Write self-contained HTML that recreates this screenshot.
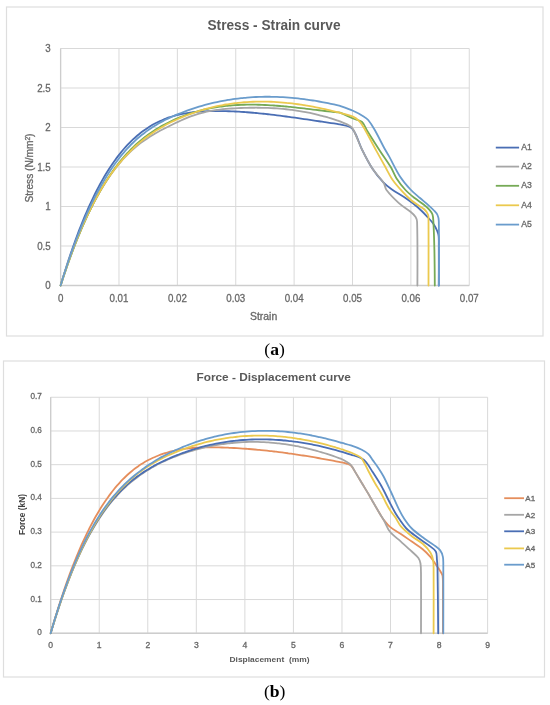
<!DOCTYPE html><html><head><meta charset="utf-8"><style>html,body{margin:0;padding:0;background:#fff;}svg{display:block;filter:blur(0.5px);}text{font-family:"Liberation Sans",sans-serif;}</style></head><body>
<svg width="550" height="705" viewBox="0 0 550 705">
<rect x="0" y="0" width="550" height="705" fill="#fff"/>
<rect x="6.5" y="7" width="536.5" height="329" fill="none" stroke="#DEDEDE" stroke-width="1.2"/>
<rect x="3.5" y="361" width="541" height="316" fill="none" stroke="#DEDEDE" stroke-width="1.2"/>
<g stroke="#D9D9D9" stroke-width="1"><line x1="60.60" y1="48.50" x2="60.60" y2="285.5" /><line x1="118.98" y1="48.50" x2="118.98" y2="285.5" /><line x1="177.36" y1="48.50" x2="177.36" y2="285.5" /><line x1="235.74" y1="48.50" x2="235.74" y2="285.5" /><line x1="294.12" y1="48.50" x2="294.12" y2="285.5" /><line x1="352.50" y1="48.50" x2="352.50" y2="285.5" /><line x1="410.88" y1="48.50" x2="410.88" y2="285.5" /><line x1="469.26" y1="48.50" x2="469.26" y2="285.5" /><line x1="60.6" y1="285.50" x2="469.26" y2="285.50" /><line x1="60.6" y1="246.00" x2="469.26" y2="246.00" /><line x1="60.6" y1="206.50" x2="469.26" y2="206.50" /><line x1="60.6" y1="167.00" x2="469.26" y2="167.00" /><line x1="60.6" y1="127.50" x2="469.26" y2="127.50" /><line x1="60.6" y1="88.00" x2="469.26" y2="88.00" /><line x1="60.6" y1="48.50" x2="469.26" y2="48.50" /></g>
<g stroke="#CDCDCD" stroke-width="1.3"><line x1="60.6" y1="48.50" x2="60.6" y2="285.5"/><line x1="60.6" y1="285.5" x2="469.26" y2="285.5"/></g>
<text transform="translate(50.7,289.10) scale(0.84,1)" font-size="11.6" fill="#676767" stroke="#676767" stroke-width="0.3" text-anchor="end">0</text>
<text transform="translate(50.7,249.60) scale(0.84,1)" font-size="11.6" fill="#676767" stroke="#676767" stroke-width="0.3" text-anchor="end">0.5</text>
<text transform="translate(50.7,210.10) scale(0.84,1)" font-size="11.6" fill="#676767" stroke="#676767" stroke-width="0.3" text-anchor="end">1</text>
<text transform="translate(50.7,170.60) scale(0.84,1)" font-size="11.6" fill="#676767" stroke="#676767" stroke-width="0.3" text-anchor="end">1.5</text>
<text transform="translate(50.7,131.10) scale(0.84,1)" font-size="11.6" fill="#676767" stroke="#676767" stroke-width="0.3" text-anchor="end">2</text>
<text transform="translate(50.7,91.60) scale(0.84,1)" font-size="11.6" fill="#676767" stroke="#676767" stroke-width="0.3" text-anchor="end">2.5</text>
<text transform="translate(50.7,52.10) scale(0.84,1)" font-size="11.6" fill="#676767" stroke="#676767" stroke-width="0.3" text-anchor="end">3</text>
<text transform="translate(60.60,302.3) scale(0.84,1)" font-size="11.6" fill="#676767" stroke="#676767" stroke-width="0.3" text-anchor="middle">0</text>
<text transform="translate(118.98,302.3) scale(0.84,1)" font-size="11.6" fill="#676767" stroke="#676767" stroke-width="0.3" text-anchor="middle">0.01</text>
<text transform="translate(177.36,302.3) scale(0.84,1)" font-size="11.6" fill="#676767" stroke="#676767" stroke-width="0.3" text-anchor="middle">0.02</text>
<text transform="translate(235.74,302.3) scale(0.84,1)" font-size="11.6" fill="#676767" stroke="#676767" stroke-width="0.3" text-anchor="middle">0.03</text>
<text transform="translate(294.12,302.3) scale(0.84,1)" font-size="11.6" fill="#676767" stroke="#676767" stroke-width="0.3" text-anchor="middle">0.04</text>
<text transform="translate(352.50,302.3) scale(0.84,1)" font-size="11.6" fill="#676767" stroke="#676767" stroke-width="0.3" text-anchor="middle">0.05</text>
<text transform="translate(410.88,302.3) scale(0.84,1)" font-size="11.6" fill="#676767" stroke="#676767" stroke-width="0.3" text-anchor="middle">0.06</text>
<text transform="translate(469.26,302.3) scale(0.84,1)" font-size="11.6" fill="#676767" stroke="#676767" stroke-width="0.3" text-anchor="middle">0.07</text>
<text x="263.6" y="319.5" font-size="10.4" fill="#676767" stroke="#676767" stroke-width="0.3" text-anchor="middle">Strain</text>
<text x="274" y="30.2" font-size="14" font-weight="bold" fill="#595959" text-anchor="middle" textLength="133" lengthAdjust="spacingAndGlyphs">Stress - Strain curve</text>
<text transform="translate(33.2,168) rotate(-90)" font-size="10" fill="#676767" stroke="#676767" stroke-width="0.3" text-anchor="middle" textLength="69" lengthAdjust="spacingAndGlyphs">Stress (N/mm<tspan font-size="6.5" dy="-3.5">2</tspan><tspan dy="3.5">)</tspan></text>
<path d="M60.60,285.50 C60.60,285.50 61.92,281.04 62.60,278.82 C63.26,276.65 63.92,274.49 64.60,272.33 C65.26,270.22 65.92,268.11 66.60,266.01 C67.26,263.96 67.92,261.91 68.60,259.87 C69.26,257.87 69.92,255.88 70.60,253.89 C71.26,251.96 71.92,250.02 72.60,248.09 C73.26,246.21 73.92,244.33 74.60,242.46 C75.26,240.63 75.92,238.81 76.60,236.99 C77.26,235.21 77.92,233.44 78.60,231.68 C79.26,229.95 79.92,228.24 80.60,226.52 C81.26,224.86 81.92,223.19 82.60,221.53 C83.26,219.91 83.92,218.30 84.60,216.69 C85.26,215.12 85.92,213.56 86.60,212.00 C87.26,210.48 87.92,208.96 88.60,207.45 C89.26,205.98 89.92,204.52 90.60,203.06 C91.26,201.64 91.92,200.22 92.60,198.80 C93.26,197.43 93.92,196.06 94.60,194.69 C95.26,193.36 95.92,192.04 96.60,190.72 C97.26,189.43 97.93,188.15 98.60,186.88 C99.06,186.00 99.52,185.13 100.00,184.27 C100.99,182.47 101.98,180.67 103.00,178.89 C103.98,177.19 104.98,175.49 106.00,173.81 C106.98,172.19 107.98,170.58 109.00,168.99 C109.98,167.47 110.98,165.95 112.00,164.45 C112.98,163.01 113.98,161.58 115.00,160.17 C115.98,158.81 116.98,157.46 118.00,156.13 C118.98,154.85 119.98,153.59 121.00,152.34 C121.98,151.14 122.98,149.95 124.00,148.78 C124.98,147.65 125.98,146.54 127.00,145.45 C127.98,144.39 128.98,143.35 130.00,142.33 C130.98,141.34 131.98,140.37 133.00,139.42 C133.98,138.49 134.98,137.59 136.00,136.70 C136.98,135.84 137.99,135.00 139.00,134.18 C139.99,133.38 140.99,132.60 142.00,131.83 C142.99,131.09 143.99,130.37 145.00,129.66 C145.99,128.97 146.99,128.30 148.00,127.65 C148.99,127.01 149.99,126.40 151.00,125.79 C151.99,125.21 152.99,124.64 154.00,124.08 C154.99,123.54 155.99,123.02 157.00,122.51 C157.99,122.01 158.99,121.53 160.00,121.07 C160.99,120.61 161.99,120.17 163.00,119.75 C163.99,119.33 164.99,118.93 166.00,118.55 C166.99,118.17 167.99,117.81 169.00,117.46 C169.99,117.12 171.00,116.80 172.00,116.49 C173.00,116.18 174.00,115.89 175.00,115.61 C176.00,115.34 177.00,115.08 178.00,114.84 C179.00,114.59 180.00,114.37 181.00,114.15 C182.00,113.94 183.00,113.74 184.00,113.55 C185.00,113.37 186.00,113.20 187.00,113.04 C188.00,112.88 189.00,112.73 190.00,112.59 C191.00,112.46 192.00,112.33 193.00,112.22 C194.00,112.10 195.00,112.00 196.00,111.91 C197.00,111.81 198.00,111.73 199.00,111.66 C200.00,111.58 201.00,111.52 202.00,111.46 C203.00,111.40 204.00,111.35 205.00,111.30 C206.00,111.26 207.00,111.22 208.00,111.19 C209.00,111.16 210.00,111.14 211.00,111.12 C212.00,111.10 213.00,111.08 214.00,111.07 C215.00,111.06 216.00,111.06 217.00,111.06 C218.00,111.06 219.00,111.06 220.00,111.07 C221.00,111.07 222.00,111.09 223.00,111.10 C224.00,111.12 225.00,111.14 226.00,111.17 C227.00,111.19 228.00,111.22 229.00,111.25 C230.00,111.28 231.00,111.32 232.00,111.36 C233.00,111.40 234.00,111.45 235.00,111.49 C236.00,111.54 237.00,111.59 238.00,111.65 C239.00,111.71 240.00,111.76 241.00,111.83 C242.00,111.89 243.00,111.95 244.00,112.02 C245.00,112.09 246.00,112.17 247.00,112.24 C248.00,112.32 249.00,112.40 250.00,112.48 C251.00,112.56 252.00,112.64 253.00,112.73 C254.00,112.82 255.00,112.91 256.00,113.00 C257.00,113.10 258.00,113.19 259.00,113.29 C260.00,113.39 261.00,113.49 262.00,113.59 C263.00,113.70 264.00,113.80 265.00,113.91 C266.00,114.02 267.00,114.13 268.00,114.24 C269.00,114.36 270.00,114.47 271.00,114.59 C272.00,114.71 273.00,114.83 274.00,114.95 C275.00,115.07 276.00,115.19 277.00,115.32 C278.00,115.44 279.00,115.57 280.00,115.70 C281.00,115.83 282.00,115.96 283.00,116.09 C284.00,116.22 285.00,116.35 286.00,116.49 C287.00,116.62 288.00,116.76 289.00,116.90 C290.00,117.03 291.00,117.17 292.00,117.31 C293.00,117.45 294.00,117.59 295.00,117.73 C296.00,117.88 297.00,118.02 298.00,118.16 C299.00,118.31 300.00,118.45 301.00,118.60 C302.00,118.74 303.00,118.89 304.00,119.03 C305.00,119.18 306.00,119.33 307.00,119.47 C308.00,119.62 309.00,119.77 310.00,119.92 C311.00,120.07 312.00,120.22 313.00,120.36 C314.00,120.51 315.00,120.66 316.00,120.81 C317.00,120.96 318.00,121.11 319.00,121.26 C320.00,121.41 321.00,121.56 322.00,121.71 C323.00,121.85 324.00,122.00 325.00,122.15 C326.00,122.30 327.00,122.45 328.00,122.59 C329.00,122.74 330.00,122.89 331.00,123.03 C332.00,123.18 333.00,123.33 334.00,123.47 C335.00,123.62 336.00,123.76 337.00,123.90 C338.00,124.05 339.01,124.11 340.00,124.33 C342.95,124.98 345.97,125.44 348.80,126.50 C350.19,127.02 351.54,127.86 352.50,129.00 C354.00,130.77 355.03,132.90 356.00,135.00 C358.13,139.61 359.56,144.54 361.80,149.10 C365.14,155.92 368.57,162.73 372.70,169.10 C375.86,173.97 379.63,178.46 383.60,182.70 C385.96,185.22 388.77,187.32 391.60,189.30 C396.08,192.43 401.00,194.90 405.50,198.00 C409.81,200.97 414.05,204.07 418.00,207.50 C421.56,210.59 424.77,214.06 428.00,217.50 C429.94,219.57 431.88,221.67 433.50,224.00 C434.90,226.02 436.04,228.24 437.00,230.50 C437.75,232.26 438.36,234.11 438.60,236.00 C438.97,238.98 438.79,242.00 438.80,245.00 C438.85,258.50 438.80,285.50 438.80,285.50" fill="none" stroke="#4A6EB4" stroke-width="1.8" stroke-linejoin="round" stroke-linecap="round"/>
<path d="M60.60,285.50 C60.60,285.50 61.93,281.39 62.60,279.34 C63.26,277.33 63.93,275.33 64.60,273.33 C65.26,271.38 65.93,269.43 66.60,267.49 C67.26,265.59 67.93,263.69 68.60,261.80 C69.26,259.95 69.93,258.11 70.60,256.27 C71.26,254.48 71.92,252.68 72.60,250.89 C73.26,249.15 73.92,247.41 74.60,245.67 C75.26,243.97 75.92,242.28 76.60,240.59 C77.26,238.95 77.92,237.30 78.60,235.66 C79.26,234.06 79.92,232.47 80.60,230.88 C81.26,229.33 81.92,227.78 82.60,226.24 C83.26,224.73 83.92,223.23 84.60,221.73 C85.26,220.27 85.92,218.82 86.60,217.37 C87.26,215.95 87.92,214.54 88.60,213.14 C89.26,211.77 89.92,210.40 90.60,209.04 C91.26,207.71 91.92,206.39 92.60,205.07 C93.26,203.79 93.92,202.51 94.60,201.24 C95.26,200.00 95.92,198.76 96.60,197.53 C97.26,196.33 97.93,195.13 98.60,193.94 C99.06,193.12 99.52,192.31 100.00,191.50 C100.99,189.82 101.98,188.14 103.00,186.47 C103.98,184.87 104.98,183.29 106.00,181.71 C106.98,180.19 107.98,178.69 109.00,177.20 C109.98,175.77 110.98,174.35 112.00,172.94 C112.98,171.58 113.98,170.24 115.00,168.92 C115.98,167.64 116.98,166.38 118.00,165.13 C118.98,163.92 119.98,162.73 121.00,161.56 C121.98,160.43 122.98,159.31 124.00,158.21 C124.98,157.15 125.98,156.10 127.00,155.07 C127.98,154.08 128.98,153.10 130.00,152.13 C130.98,151.20 131.99,150.28 133.00,149.37 C133.99,148.50 134.99,147.64 136.00,146.79 C136.99,145.97 137.99,145.16 139.00,144.36 C139.99,143.59 140.99,142.83 142.00,142.09 C142.99,141.36 143.99,140.64 145.00,139.94 C145.99,139.26 146.99,138.58 148.00,137.92 C148.99,137.27 149.99,136.64 151.00,136.02 C151.99,135.40 152.99,134.80 154.00,134.20 C154.99,133.62 155.99,133.04 157.00,132.48 C157.99,131.92 159.00,131.37 160.00,130.83 C161.00,130.29 162.00,129.76 163.00,129.24 C164.00,128.72 165.00,128.20 166.00,127.69 C167.00,127.19 168.00,126.69 169.00,126.19 C170.00,125.69 171.00,125.20 172.00,124.71 C173.00,124.22 174.00,123.73 175.00,123.25 C176.00,122.77 177.00,122.30 178.00,121.83 C179.00,121.37 180.00,120.91 181.00,120.46 C182.00,120.01 183.00,119.57 184.00,119.13 C185.00,118.70 186.00,118.28 187.00,117.87 C188.00,117.47 189.00,117.07 190.00,116.69 C191.00,116.31 192.00,115.94 193.00,115.58 C194.00,115.23 195.00,114.89 196.00,114.57 C197.00,114.25 198.00,113.94 199.00,113.65 C200.00,113.36 201.00,113.09 202.00,112.83 C203.00,112.57 204.00,112.33 205.00,112.09 C206.00,111.86 207.00,111.65 208.00,111.44 C209.00,111.24 210.00,111.05 211.00,110.87 C212.00,110.69 213.00,110.52 214.00,110.36 C215.00,110.20 216.00,110.06 217.00,109.92 C218.00,109.78 219.00,109.66 220.00,109.54 C221.00,109.42 222.00,109.31 223.00,109.21 C224.00,109.11 225.00,109.02 226.00,108.93 C227.00,108.84 228.00,108.76 229.00,108.69 C230.00,108.61 231.00,108.54 232.00,108.48 C233.00,108.42 234.00,108.36 235.00,108.30 C236.00,108.25 237.00,108.20 238.00,108.15 C239.00,108.10 240.00,108.06 241.00,108.02 C242.00,107.98 243.00,107.94 244.00,107.91 C245.00,107.88 246.00,107.85 247.00,107.83 C248.00,107.80 249.00,107.78 250.00,107.77 C251.00,107.75 252.00,107.74 253.00,107.73 C254.00,107.73 255.00,107.72 256.00,107.72 C257.00,107.73 258.00,107.73 259.00,107.74 C260.00,107.75 261.00,107.77 262.00,107.79 C263.00,107.81 264.00,107.83 265.00,107.86 C266.00,107.89 267.00,107.93 268.00,107.97 C269.00,108.01 270.00,108.05 271.00,108.10 C272.00,108.15 273.00,108.20 274.00,108.27 C275.00,108.33 276.00,108.39 277.00,108.46 C278.00,108.53 279.00,108.61 280.00,108.69 C281.00,108.77 282.00,108.86 283.00,108.95 C284.00,109.05 285.00,109.15 286.00,109.25 C287.00,109.36 288.00,109.47 289.00,109.59 C290.00,109.70 291.00,109.83 292.00,109.95 C293.00,110.08 294.00,110.22 295.00,110.36 C296.00,110.50 297.00,110.65 298.00,110.80 C299.00,110.96 300.00,111.12 301.00,111.28 C302.00,111.45 303.00,111.63 304.00,111.81 C305.00,111.99 306.00,112.17 307.00,112.37 C308.00,112.56 309.00,112.76 310.00,112.97 C311.00,113.18 312.00,113.39 313.00,113.61 C314.00,113.84 315.00,114.06 316.00,114.30 C317.00,114.54 318.00,114.78 319.00,115.03 C320.00,115.28 321.00,115.54 322.00,115.81 C323.00,116.07 324.00,116.34 325.00,116.63 C326.00,116.91 327.00,117.20 328.00,117.49 C329.00,117.79 330.00,118.09 331.00,118.40 C332.00,118.72 333.00,119.04 334.00,119.36 C335.00,119.69 336.00,120.03 337.00,120.37 C338.00,120.72 339.03,121.01 340.00,121.43 C343.36,122.89 346.91,124.04 350.00,126.00 C351.50,126.95 352.69,128.42 353.50,130.00 C356.66,136.18 358.74,142.87 361.80,149.10 C365.15,155.92 368.57,162.73 372.70,169.10 C375.86,173.97 380.40,177.85 383.60,182.70 C385.04,184.88 384.93,187.91 386.50,190.00 C390.11,194.81 394.45,199.06 398.90,203.10 C402.48,206.35 406.77,208.72 410.50,211.80 C412.35,213.33 414.29,214.88 415.60,216.90 C416.56,218.39 417.05,220.23 417.10,222.00 C417.66,243.16 417.40,285.50 417.40,285.50" fill="none" stroke="#A6A6A6" stroke-width="1.8" stroke-linejoin="round" stroke-linecap="round"/>
<path d="M60.60,285.50 C60.60,285.50 61.93,281.40 62.60,279.35 C63.26,277.35 63.93,275.36 64.60,273.36 C65.26,271.42 65.93,269.48 66.60,267.54 C67.26,265.64 67.93,263.75 68.60,261.86 C69.26,260.02 69.93,258.18 70.60,256.34 C71.26,254.55 71.93,252.76 72.60,250.98 C73.26,249.23 73.93,247.49 74.60,245.75 C75.26,244.06 75.93,242.37 76.60,240.68 C77.26,239.03 77.93,237.38 78.60,235.74 C79.26,234.14 79.93,232.54 80.60,230.95 C81.26,229.40 81.93,227.84 82.60,226.30 C83.26,224.79 83.93,223.28 84.60,221.78 C85.26,220.31 85.93,218.85 86.60,217.39 C87.26,215.97 87.93,214.55 88.60,213.13 C89.26,211.75 89.93,210.38 90.60,209.01 C91.26,207.67 91.93,206.34 92.60,205.01 C93.26,203.71 93.93,202.42 94.60,201.13 C95.26,199.87 95.93,198.62 96.60,197.37 C97.26,196.15 97.93,194.94 98.60,193.73 C99.06,192.90 99.52,192.08 100.00,191.26 C100.99,189.54 101.98,187.83 103.00,186.14 C103.98,184.50 104.98,182.88 106.00,181.27 C106.98,179.71 107.98,178.17 109.00,176.64 C109.98,175.16 110.98,173.69 112.00,172.24 C112.98,170.84 113.98,169.45 115.00,168.07 C115.98,166.74 116.98,165.42 118.00,164.12 C118.98,162.86 119.98,161.61 121.00,160.37 C121.98,159.18 122.98,158.00 124.00,156.83 C124.98,155.70 125.98,154.58 127.00,153.48 C127.98,152.41 128.99,151.35 130.00,150.31 C130.99,149.30 131.99,148.31 133.00,147.32 C133.99,146.37 134.99,145.43 136.00,144.50 C136.99,143.60 137.99,142.71 139.00,141.84 C139.99,140.99 140.99,140.15 142.00,139.33 C142.99,138.53 143.99,137.74 145.00,136.96 C145.99,136.20 146.99,135.46 148.00,134.73 C148.99,134.02 149.99,133.32 151.00,132.63 C151.99,131.95 152.99,131.29 154.00,130.64 C154.99,130.01 155.99,129.38 157.00,128.77 C157.99,128.17 158.99,127.58 160.00,127.00 C160.99,126.43 161.99,125.87 163.00,125.32 C163.99,124.78 164.99,124.25 166.00,123.74 C166.99,123.22 168.00,122.72 169.00,122.22 C170.00,121.74 171.00,121.26 172.00,120.79 C173.00,120.32 174.00,119.87 175.00,119.43 C176.00,118.99 177.00,118.56 178.00,118.14 C179.00,117.72 180.00,117.31 181.00,116.91 C182.00,116.52 183.00,116.14 184.00,115.76 C185.00,115.39 186.00,115.03 187.00,114.67 C188.00,114.33 189.00,113.99 190.00,113.65 C191.00,113.33 192.00,113.01 193.00,112.70 C194.00,112.39 195.00,112.09 196.00,111.80 C197.00,111.52 198.00,111.24 199.00,110.97 C200.00,110.70 201.00,110.45 202.00,110.20 C203.00,109.95 204.00,109.71 205.00,109.48 C206.00,109.25 207.00,109.03 208.00,108.82 C209.00,108.61 210.00,108.41 211.00,108.22 C212.00,108.02 213.00,107.84 214.00,107.67 C215.00,107.49 216.00,107.32 217.00,107.17 C218.00,107.01 219.00,106.86 220.00,106.72 C221.00,106.58 222.00,106.44 223.00,106.32 C224.00,106.19 225.00,106.07 226.00,105.96 C227.00,105.85 228.00,105.75 229.00,105.66 C230.00,105.56 231.00,105.47 232.00,105.39 C233.00,105.31 234.00,105.24 235.00,105.17 C236.00,105.11 237.00,105.05 238.00,105.00 C239.00,104.94 240.00,104.90 241.00,104.86 C242.00,104.82 243.00,104.78 244.00,104.76 C245.00,104.73 246.00,104.71 247.00,104.69 C248.00,104.68 249.00,104.67 250.00,104.66 C251.00,104.66 252.00,104.66 253.00,104.67 C254.00,104.68 255.00,104.69 256.00,104.71 C257.00,104.72 258.00,104.75 259.00,104.77 C260.00,104.80 261.00,104.83 262.00,104.87 C263.00,104.91 264.00,104.95 265.00,105.00 C266.00,105.04 267.00,105.09 268.00,105.15 C269.00,105.20 270.00,105.26 271.00,105.32 C272.00,105.39 273.00,105.45 274.00,105.52 C275.00,105.59 276.00,105.67 277.00,105.74 C278.00,105.82 279.00,105.90 280.00,105.98 C281.00,106.07 282.00,106.15 283.00,106.24 C284.00,106.33 285.00,106.43 286.00,106.52 C287.00,106.62 288.00,106.71 289.00,106.81 C290.00,106.91 291.00,107.02 292.00,107.12 C293.00,107.22 294.00,107.33 295.00,107.44 C296.00,107.55 297.00,107.66 298.00,107.77 C299.00,107.88 300.00,107.99 301.00,108.11 C302.00,108.22 303.00,108.34 304.00,108.46 C305.00,108.57 306.00,108.69 307.00,108.81 C308.00,108.93 309.00,109.05 310.00,109.17 C311.00,109.29 312.00,109.41 313.00,109.53 C314.00,109.66 315.00,109.78 316.00,109.90 C317.00,110.02 318.00,110.14 319.00,110.26 C320.00,110.39 321.00,110.51 322.00,110.63 C323.00,110.75 324.00,110.87 325.00,110.99 C326.00,111.11 327.00,111.23 328.00,111.35 C329.00,111.47 330.00,111.59 331.00,111.70 C332.00,111.82 333.00,111.93 334.00,112.05 C335.00,112.16 336.00,112.28 337.00,112.39 C338.00,112.50 339.06,112.35 340.00,112.71 C344.43,114.41 348.62,116.68 353.00,118.50 C355.89,119.71 359.43,119.75 361.80,121.80 C364.48,124.12 365.42,127.90 367.30,130.90 C371.49,137.60 375.70,144.27 380.00,150.90 C383.57,156.41 387.52,161.67 390.90,167.30 C393.00,170.79 394.20,174.78 396.40,178.20 C399.09,182.38 402.13,186.35 405.50,190.00 C408.36,193.09 411.72,195.67 415.00,198.30 C417.76,200.51 420.83,202.30 423.60,204.50 C425.67,206.14 427.74,207.83 429.50,209.80 C430.74,211.19 431.93,212.73 432.50,214.50 C433.27,216.90 433.27,219.49 433.40,222.00 C433.90,231.33 434.19,240.66 434.40,250.00 C434.66,261.83 434.80,285.50 434.80,285.50" fill="none" stroke="#76AA56" stroke-width="1.8" stroke-linejoin="round" stroke-linecap="round"/>
<path d="M60.60,285.50 C60.60,285.50 61.92,281.32 62.60,279.24 C63.26,277.21 63.92,275.18 64.60,273.16 C65.26,271.18 65.92,269.22 66.60,267.25 C67.26,265.33 67.92,263.42 68.60,261.51 C69.26,259.65 69.92,257.79 70.60,255.94 C71.26,254.13 71.92,252.33 72.60,250.53 C73.26,248.78 73.92,247.03 74.60,245.29 C75.26,243.59 75.92,241.89 76.60,240.20 C77.26,238.55 77.92,236.90 78.60,235.26 C79.26,233.67 79.92,232.07 80.60,230.48 C81.26,228.93 81.92,227.39 82.60,225.85 C83.26,224.35 83.92,222.85 84.60,221.36 C85.26,219.91 85.92,218.46 86.60,217.01 C87.26,215.61 87.92,214.20 88.60,212.80 C89.26,211.44 89.92,210.08 90.60,208.73 C91.26,207.41 91.92,206.10 92.60,204.79 C93.26,203.52 93.92,202.25 94.60,200.98 C95.26,199.75 95.92,198.52 96.60,197.30 C97.26,196.11 97.93,194.92 98.60,193.74 C99.06,192.93 99.52,192.12 100.00,191.31 C100.99,189.64 101.98,187.97 103.00,186.32 C103.98,184.73 104.98,183.15 106.00,181.58 C106.98,180.06 107.98,178.57 109.00,177.08 C109.98,175.64 110.98,174.22 112.00,172.81 C112.98,171.45 113.98,170.10 115.00,168.77 C115.98,167.48 116.98,166.20 118.00,164.94 C118.98,163.71 119.98,162.50 121.00,161.30 C121.98,160.14 122.99,159.00 124.00,157.86 C124.99,156.76 125.99,155.67 127.00,154.60 C127.99,153.56 128.99,152.53 130.00,151.51 C130.99,150.52 131.99,149.54 133.00,148.57 C133.99,147.63 134.99,146.70 136.00,145.79 C136.99,144.90 137.99,144.02 139.00,143.15 C139.99,142.31 140.99,141.47 142.00,140.65 C142.99,139.85 143.99,139.06 145.00,138.29 C145.99,137.52 146.99,136.78 148.00,136.04 C148.99,135.32 149.99,134.61 151.00,133.92 C151.99,133.23 152.99,132.56 154.00,131.90 C154.99,131.26 155.99,130.62 157.00,130.00 C157.99,129.38 158.99,128.78 160.00,128.19 C160.99,127.60 161.99,127.03 163.00,126.47 C163.99,125.91 164.99,125.37 166.00,124.83 C166.99,124.30 168.00,123.78 169.00,123.27 C170.00,122.77 171.00,122.27 172.00,121.79 C173.00,121.31 174.00,120.83 175.00,120.37 C176.00,119.90 177.00,119.45 178.00,119.00 C179.00,118.56 180.00,118.12 181.00,117.70 C182.00,117.27 183.00,116.86 184.00,116.45 C185.00,116.04 186.00,115.64 187.00,115.25 C188.00,114.87 189.00,114.49 190.00,114.11 C191.00,113.74 192.00,113.38 193.00,113.03 C194.00,112.68 195.00,112.33 196.00,112.00 C197.00,111.66 198.00,111.34 199.00,111.02 C200.00,110.70 201.00,110.40 202.00,110.09 C203.00,109.80 204.00,109.50 205.00,109.22 C206.00,108.94 207.00,108.66 208.00,108.40 C209.00,108.13 210.00,107.88 211.00,107.63 C212.00,107.38 213.00,107.14 214.00,106.90 C215.00,106.67 216.00,106.45 217.00,106.23 C218.00,106.01 219.00,105.81 220.00,105.61 C221.00,105.41 222.00,105.21 223.00,105.03 C224.00,104.84 225.00,104.67 226.00,104.50 C227.00,104.33 228.00,104.17 229.00,104.02 C230.00,103.86 231.00,103.72 232.00,103.58 C233.00,103.44 234.00,103.31 235.00,103.19 C236.00,103.06 237.00,102.95 238.00,102.84 C239.00,102.73 240.00,102.63 241.00,102.53 C242.00,102.44 243.00,102.35 244.00,102.27 C245.00,102.19 246.00,102.12 247.00,102.06 C248.00,101.99 249.00,101.93 250.00,101.88 C251.00,101.83 252.00,101.78 253.00,101.75 C254.00,101.71 255.00,101.68 256.00,101.65 C257.00,101.63 258.00,101.61 259.00,101.60 C260.00,101.59 261.00,101.58 262.00,101.58 C263.00,101.59 264.00,101.59 265.00,101.61 C266.00,101.62 267.00,101.64 268.00,101.67 C269.00,101.70 270.00,101.73 271.00,101.77 C272.00,101.81 273.00,101.86 274.00,101.91 C275.00,101.96 276.00,102.02 277.00,102.08 C278.00,102.14 279.00,102.21 280.00,102.29 C281.00,102.36 282.00,102.44 283.00,102.53 C284.00,102.62 285.00,102.71 286.00,102.81 C287.00,102.90 288.00,103.01 289.00,103.12 C290.00,103.23 291.00,103.34 292.00,103.46 C293.00,103.58 294.00,103.71 295.00,103.84 C296.00,103.97 297.00,104.10 298.00,104.24 C299.00,104.38 300.00,104.53 301.00,104.68 C302.00,104.83 303.00,104.99 304.00,105.15 C305.00,105.31 306.00,105.48 307.00,105.65 C308.00,105.82 309.00,105.99 310.00,106.17 C311.00,106.35 312.00,106.54 313.00,106.73 C314.00,106.92 315.00,107.11 316.00,107.31 C317.00,107.51 318.00,107.71 319.00,107.92 C320.00,108.13 321.00,108.34 322.00,108.56 C323.00,108.77 324.00,108.99 325.00,109.22 C326.00,109.44 327.00,109.67 328.00,109.90 C329.00,110.14 330.00,110.37 331.00,110.62 C332.00,110.86 333.00,111.10 334.00,111.35 C335.00,111.60 336.00,111.85 337.00,112.11 C338.00,112.36 339.01,112.60 340.00,112.89 C344.34,114.13 348.84,114.95 353.00,116.70 C355.25,117.65 357.27,119.17 359.00,120.90 C360.86,122.76 362.28,125.03 363.60,127.30 C368.09,135.04 372.10,143.05 376.40,150.90 C379.40,156.38 382.44,161.85 385.50,167.30 C387.88,171.55 389.93,176.00 392.70,180.00 C395.39,183.89 398.61,187.40 401.80,190.90 C404.69,194.07 407.65,197.20 410.90,200.00 C413.51,202.25 416.48,204.03 419.30,206.00 C421.01,207.20 423.01,208.04 424.50,209.50 C425.96,210.92 427.21,212.63 428.00,214.50 C428.59,215.89 428.49,217.49 428.50,219.00 C428.66,241.17 428.50,285.50 428.50,285.50" fill="none" stroke="#EBC94E" stroke-width="1.8" stroke-linejoin="round" stroke-linecap="round"/>
<path d="M60.60,285.50 C60.60,285.50 61.92,281.20 62.60,279.06 C63.26,276.97 63.93,274.88 64.60,272.80 C65.26,270.77 65.93,268.74 66.60,266.71 C67.26,264.73 67.92,262.76 68.60,260.78 C69.26,258.86 69.92,256.94 70.60,255.02 C71.26,253.15 71.92,251.28 72.60,249.42 C73.26,247.60 73.92,245.79 74.60,243.98 C75.26,242.21 75.92,240.45 76.60,238.69 C77.26,236.97 77.92,235.26 78.60,233.55 C79.26,231.89 79.92,230.23 80.60,228.57 C81.26,226.95 81.92,225.34 82.60,223.73 C83.26,222.16 83.92,220.60 84.60,219.04 C85.26,217.52 85.92,216.00 86.60,214.49 C87.26,213.02 87.92,211.55 88.60,210.08 C89.26,208.65 89.92,207.23 90.60,205.81 C91.26,204.42 91.92,203.04 92.60,201.67 C93.26,200.33 93.92,198.99 94.60,197.66 C95.26,196.37 95.92,195.07 96.60,193.79 C97.26,192.53 97.93,191.28 98.60,190.04 C99.06,189.18 99.52,188.33 100.00,187.48 C100.99,185.72 101.98,183.96 103.00,182.22 C103.98,180.54 104.98,178.87 106.00,177.22 C106.98,175.62 107.98,174.04 109.00,172.48 C109.98,170.96 110.98,169.47 112.00,167.98 C112.98,166.55 113.98,165.13 115.00,163.73 C115.98,162.37 116.98,161.03 118.00,159.70 C118.98,158.42 119.98,157.16 121.00,155.90 C121.98,154.69 122.98,153.50 124.00,152.32 C124.98,151.17 125.98,150.05 127.00,148.93 C127.98,147.86 128.98,146.79 130.00,145.75 C130.98,144.73 131.99,143.73 133.00,142.75 C133.99,141.79 134.99,140.85 136.00,139.92 C136.99,139.02 137.99,138.14 139.00,137.27 C139.99,136.42 140.99,135.59 142.00,134.78 C142.99,133.98 143.99,133.20 145.00,132.44 C145.99,131.69 146.99,130.96 148.00,130.24 C148.99,129.54 149.99,128.85 151.00,128.17 C151.99,127.51 152.99,126.87 154.00,126.24 C154.99,125.61 155.99,125.01 157.00,124.41 C157.99,123.83 158.99,123.26 160.00,122.70 C160.99,122.15 161.99,121.61 163.00,121.08 C163.99,120.56 164.99,120.05 166.00,119.55 C166.99,119.06 168.00,118.58 169.00,118.11 C170.00,117.64 171.00,117.18 172.00,116.73 C173.00,116.29 174.00,115.85 175.00,115.42 C176.00,115.00 177.00,114.58 178.00,114.17 C179.00,113.76 180.00,113.36 181.00,112.96 C182.00,112.57 183.00,112.18 184.00,111.80 C185.00,111.42 186.00,111.05 187.00,110.69 C188.00,110.33 189.00,109.97 190.00,109.62 C191.00,109.28 192.00,108.94 193.00,108.60 C194.00,108.27 195.00,107.95 196.00,107.63 C197.00,107.31 198.00,107.00 199.00,106.70 C200.00,106.40 201.00,106.10 202.00,105.81 C203.00,105.53 204.00,105.25 205.00,104.97 C206.00,104.70 207.00,104.43 208.00,104.17 C209.00,103.92 210.00,103.67 211.00,103.42 C212.00,103.18 213.00,102.94 214.00,102.71 C215.00,102.48 216.00,102.26 217.00,102.04 C218.00,101.83 219.00,101.62 220.00,101.42 C221.00,101.21 222.00,101.02 223.00,100.83 C224.00,100.64 225.00,100.46 226.00,100.29 C227.00,100.11 228.00,99.95 229.00,99.78 C230.00,99.62 231.00,99.47 232.00,99.32 C233.00,99.18 234.00,99.03 235.00,98.90 C236.00,98.77 237.00,98.64 238.00,98.52 C239.00,98.40 240.00,98.28 241.00,98.17 C242.00,98.06 243.00,97.96 244.00,97.87 C245.00,97.77 246.00,97.68 247.00,97.60 C248.00,97.52 249.00,97.44 250.00,97.37 C251.00,97.30 252.00,97.24 253.00,97.18 C254.00,97.12 255.00,97.07 256.00,97.02 C257.00,96.98 258.00,96.94 259.00,96.90 C260.00,96.87 261.00,96.84 262.00,96.82 C263.00,96.80 264.00,96.78 265.00,96.77 C266.00,96.76 267.00,96.76 268.00,96.76 C269.00,96.76 270.00,96.77 271.00,96.78 C272.00,96.80 273.00,96.82 274.00,96.84 C275.00,96.86 276.00,96.89 277.00,96.93 C278.00,96.97 279.00,97.01 280.00,97.05 C281.00,97.10 282.00,97.15 283.00,97.21 C284.00,97.27 285.00,97.33 286.00,97.40 C287.00,97.47 288.00,97.54 289.00,97.62 C290.00,97.70 291.00,97.78 292.00,97.87 C293.00,97.96 294.00,98.06 295.00,98.16 C296.00,98.26 297.00,98.36 298.00,98.47 C299.00,98.58 300.00,98.70 301.00,98.82 C302.00,98.94 303.00,99.06 304.00,99.19 C305.00,99.32 306.00,99.46 307.00,99.60 C308.00,99.74 309.00,99.88 310.00,100.03 C311.00,100.18 312.00,100.33 313.00,100.49 C314.00,100.65 315.00,100.82 316.00,100.98 C317.00,101.15 318.00,101.32 319.00,101.50 C320.00,101.68 321.00,101.86 322.00,102.05 C323.00,102.23 324.00,102.42 325.00,102.62 C326.00,102.81 327.00,103.01 328.00,103.22 C329.00,103.42 330.00,103.63 331.00,103.84 C332.00,104.05 333.00,104.27 334.00,104.49 C335.00,104.71 336.00,104.94 337.00,105.17 C338.00,105.40 339.03,105.53 340.00,105.87 C344.37,107.41 348.77,108.91 353.00,110.80 C356.65,112.43 360.18,114.33 363.60,116.40 C365.27,117.41 366.95,118.50 368.20,120.00 C370.63,122.92 372.61,126.20 374.50,129.50 C378.05,135.71 381.09,142.21 384.50,148.50 C385.95,151.18 387.62,153.74 389.10,156.40 C392.79,163.04 395.88,170.02 400.00,176.40 C403.04,181.10 406.70,185.39 410.50,189.50 C413.39,192.62 416.80,195.20 420.00,198.00 C422.63,200.30 425.39,202.47 428.00,204.80 C430.06,206.64 432.12,208.48 434.00,210.50 C435.30,211.89 436.71,213.27 437.50,215.00 C438.35,216.86 438.76,218.95 438.80,221.00 C439.20,242.50 438.80,285.50 438.80,285.50" fill="none" stroke="#6A9CCC" stroke-width="1.8" stroke-linejoin="round" stroke-linecap="round"/>
<line x1="495.8" y1="147.6" x2="519.1" y2="147.6" stroke="#4A6EB4" stroke-width="1.8"/>
<text transform="translate(521.3,150.20) scale(0.94,1)" font-size="9.2" fill="#676767" stroke="#676767" stroke-width="0.3">A1</text>
<line x1="495.8" y1="166.6" x2="519.1" y2="166.6" stroke="#A6A6A6" stroke-width="1.8"/>
<text transform="translate(521.3,169.20) scale(0.94,1)" font-size="9.2" fill="#676767" stroke="#676767" stroke-width="0.3">A2</text>
<line x1="495.8" y1="185.8" x2="519.1" y2="185.8" stroke="#76AA56" stroke-width="1.8"/>
<text transform="translate(521.3,188.40) scale(0.94,1)" font-size="9.2" fill="#676767" stroke="#676767" stroke-width="0.3">A3</text>
<line x1="495.8" y1="205.3" x2="519.1" y2="205.3" stroke="#EBC94E" stroke-width="1.8"/>
<text transform="translate(521.3,207.90) scale(0.94,1)" font-size="9.2" fill="#676767" stroke="#676767" stroke-width="0.3">A4</text>
<line x1="495.8" y1="224.6" x2="519.1" y2="224.6" stroke="#6A9CCC" stroke-width="1.8"/>
<text transform="translate(521.3,227.20) scale(0.94,1)" font-size="9.2" fill="#676767" stroke="#676767" stroke-width="0.3">A5</text>
<g stroke="#D9D9D9" stroke-width="1"><line x1="50.67" y1="397.25" x2="50.67" y2="633.25" /><line x1="99.22" y1="397.25" x2="99.22" y2="633.25" /><line x1="147.77" y1="397.25" x2="147.77" y2="633.25" /><line x1="196.32" y1="397.25" x2="196.32" y2="633.25" /><line x1="244.87" y1="397.25" x2="244.87" y2="633.25" /><line x1="293.42" y1="397.25" x2="293.42" y2="633.25" /><line x1="341.97" y1="397.25" x2="341.97" y2="633.25" /><line x1="390.52" y1="397.25" x2="390.52" y2="633.25" /><line x1="439.07" y1="397.25" x2="439.07" y2="633.25" /><line x1="487.62" y1="397.25" x2="487.62" y2="633.25" /><line x1="50.67" y1="633.25" x2="487.62" y2="633.25" /><line x1="50.67" y1="599.54" x2="487.62" y2="599.54" /><line x1="50.67" y1="565.82" x2="487.62" y2="565.82" /><line x1="50.67" y1="532.11" x2="487.62" y2="532.11" /><line x1="50.67" y1="498.39" x2="487.62" y2="498.39" /><line x1="50.67" y1="464.68" x2="487.62" y2="464.68" /><line x1="50.67" y1="430.97" x2="487.62" y2="430.97" /><line x1="50.67" y1="397.25" x2="487.62" y2="397.25" /></g>
<g stroke="#CDCDCD" stroke-width="1.3"><line x1="50.67" y1="397.25" x2="50.67" y2="633.25"/><line x1="50.67" y1="633.25" x2="487.62" y2="633.25"/></g>
<text transform="translate(41.8,635.35) scale(0.95,1)" font-size="8.6" fill="#676767" stroke="#676767" stroke-width="0.3" text-anchor="end">0</text>
<text transform="translate(41.8,601.64) scale(0.95,1)" font-size="8.6" fill="#676767" stroke="#676767" stroke-width="0.3" text-anchor="end">0.1</text>
<text transform="translate(41.8,567.92) scale(0.95,1)" font-size="8.6" fill="#676767" stroke="#676767" stroke-width="0.3" text-anchor="end">0.2</text>
<text transform="translate(41.8,534.21) scale(0.95,1)" font-size="8.6" fill="#676767" stroke="#676767" stroke-width="0.3" text-anchor="end">0.3</text>
<text transform="translate(41.8,500.49) scale(0.95,1)" font-size="8.6" fill="#676767" stroke="#676767" stroke-width="0.3" text-anchor="end">0.4</text>
<text transform="translate(41.8,466.78) scale(0.95,1)" font-size="8.6" fill="#676767" stroke="#676767" stroke-width="0.3" text-anchor="end">0.5</text>
<text transform="translate(41.8,433.07) scale(0.95,1)" font-size="8.6" fill="#676767" stroke="#676767" stroke-width="0.3" text-anchor="end">0.6</text>
<text transform="translate(41.8,399.35) scale(0.95,1)" font-size="8.6" fill="#676767" stroke="#676767" stroke-width="0.3" text-anchor="end">0.7</text>
<text x="50.7" y="647.6" font-size="8.6" fill="#676767" stroke="#676767" stroke-width="0.3" text-anchor="middle">0</text>
<text x="99.2" y="647.6" font-size="8.6" fill="#676767" stroke="#676767" stroke-width="0.3" text-anchor="middle">1</text>
<text x="147.8" y="647.6" font-size="8.6" fill="#676767" stroke="#676767" stroke-width="0.3" text-anchor="middle">2</text>
<text x="196.3" y="647.6" font-size="8.6" fill="#676767" stroke="#676767" stroke-width="0.3" text-anchor="middle">3</text>
<text x="244.9" y="647.6" font-size="8.6" fill="#676767" stroke="#676767" stroke-width="0.3" text-anchor="middle">4</text>
<text x="293.4" y="647.6" font-size="8.6" fill="#676767" stroke="#676767" stroke-width="0.3" text-anchor="middle">5</text>
<text x="342.0" y="647.6" font-size="8.6" fill="#676767" stroke="#676767" stroke-width="0.3" text-anchor="middle">6</text>
<text x="390.5" y="647.6" font-size="8.6" fill="#676767" stroke="#676767" stroke-width="0.3" text-anchor="middle">7</text>
<text x="439.1" y="647.6" font-size="8.6" fill="#676767" stroke="#676767" stroke-width="0.3" text-anchor="middle">8</text>
<text x="487.6" y="647.6" font-size="8.6" fill="#676767" stroke="#676767" stroke-width="0.3" text-anchor="middle">9</text>
<text x="269.5" y="662.2" font-size="8" font-weight="bold" fill="#595959" text-anchor="middle" textLength="80" lengthAdjust="spacingAndGlyphs" xml:space="preserve">Displacement  (mm)</text>
<text x="273.7" y="381.3" font-size="11.4" font-weight="bold" fill="#595959" text-anchor="middle" textLength="154.5" lengthAdjust="spacingAndGlyphs">Force - Displacement curve</text>
<text transform="translate(24.6,514.6) rotate(-90)" font-size="8.3" font-weight="bold" fill="#404040" text-anchor="middle" textLength="41" lengthAdjust="spacingAndGlyphs">Force (kN)</text>
<path d="M50.67,633.25 C50.67,633.25 51.99,628.61 52.67,626.29 C53.33,624.03 54.00,621.78 54.67,619.52 C55.33,617.32 56.00,615.13 56.67,612.93 C57.33,610.79 57.99,608.66 58.67,606.52 C59.33,604.44 59.99,602.36 60.67,600.28 C61.33,598.26 61.99,596.24 62.67,594.22 C63.33,592.25 63.99,590.28 64.67,588.32 C65.33,586.40 65.99,584.49 66.67,582.59 C67.33,580.73 67.99,578.87 68.67,577.02 C69.33,575.21 69.99,573.41 70.67,571.61 C71.33,569.86 71.99,568.11 72.67,566.37 C73.33,564.67 73.99,562.97 74.67,561.28 C75.33,559.63 75.99,557.98 76.67,556.34 C77.33,554.74 77.99,553.15 78.67,551.56 C79.33,550.01 79.99,548.46 80.67,546.92 C81.33,545.42 81.99,543.92 82.67,542.43 C83.33,540.98 83.99,539.53 84.67,538.09 C85.33,536.68 85.99,535.28 86.67,533.88 C87.33,532.52 88.00,531.17 88.67,529.82 C89.11,528.94 89.55,528.06 90.00,527.19 C90.99,525.28 91.98,523.37 93.00,521.48 C93.98,519.66 94.98,517.86 96.00,516.06 C96.98,514.34 97.98,512.63 99.00,510.93 C99.98,509.30 100.98,507.69 102.00,506.08 C102.98,504.54 103.98,503.01 105.00,501.50 C105.98,500.04 106.98,498.60 108.00,497.17 C108.98,495.80 109.98,494.45 111.00,493.10 C111.98,491.81 112.98,490.54 114.00,489.28 C114.98,488.06 115.98,486.86 117.00,485.68 C117.98,484.54 118.98,483.42 120.00,482.32 C120.98,481.25 121.98,480.20 123.00,479.17 C123.98,478.17 124.98,477.19 126.00,476.23 C126.98,475.30 127.98,474.38 129.00,473.49 C129.98,472.62 130.98,471.77 132.00,470.94 C132.99,470.14 133.99,469.35 135.00,468.58 C135.99,467.83 136.99,467.10 138.00,466.39 C138.99,465.70 139.99,465.03 141.00,464.37 C141.99,463.73 142.99,463.11 144.00,462.51 C144.99,461.92 145.99,461.35 147.00,460.80 C147.99,460.25 148.99,459.73 150.00,459.22 C150.99,458.73 151.99,458.25 153.00,457.79 C153.99,457.33 154.99,456.89 156.00,456.47 C156.99,456.05 157.99,455.66 159.00,455.27 C159.99,454.89 160.99,454.53 162.00,454.18 C162.99,453.83 164.00,453.50 165.00,453.19 C166.00,452.87 167.00,452.57 168.00,452.29 C169.00,452.00 170.00,451.74 171.00,451.48 C172.00,451.23 173.00,450.99 174.00,450.76 C175.00,450.53 176.00,450.32 177.00,450.12 C178.00,449.92 179.00,449.73 180.00,449.56 C181.00,449.38 182.00,449.22 183.00,449.07 C184.00,448.92 185.00,448.78 186.00,448.65 C187.00,448.52 188.00,448.41 189.00,448.30 C190.00,448.19 191.00,448.09 192.00,448.00 C193.00,447.92 194.00,447.84 195.00,447.77 C196.00,447.70 197.00,447.64 198.00,447.58 C199.00,447.53 200.00,447.49 201.00,447.45 C202.00,447.41 203.00,447.38 204.00,447.36 C205.00,447.33 206.00,447.32 207.00,447.31 C208.00,447.30 209.00,447.29 210.00,447.29 C211.00,447.29 212.00,447.30 213.00,447.31 C214.00,447.32 215.00,447.33 216.00,447.35 C217.00,447.37 218.00,447.39 219.00,447.41 C220.00,447.44 221.00,447.47 222.00,447.50 C223.00,447.53 224.00,447.56 225.00,447.60 C226.00,447.64 227.00,447.68 228.00,447.72 C229.00,447.76 230.00,447.81 231.00,447.85 C232.00,447.90 233.00,447.95 234.00,448.01 C235.00,448.06 236.00,448.11 237.00,448.17 C238.00,448.23 239.00,448.29 240.00,448.36 C241.00,448.42 242.00,448.49 243.00,448.56 C244.00,448.63 245.00,448.70 246.00,448.77 C247.00,448.85 248.00,448.92 249.00,449.00 C250.00,449.08 251.00,449.16 252.00,449.25 C253.00,449.33 254.00,449.42 255.00,449.51 C256.00,449.60 257.00,449.69 258.00,449.78 C259.00,449.88 260.00,449.97 261.00,450.07 C262.00,450.17 263.00,450.27 264.00,450.38 C265.00,450.48 266.00,450.58 267.00,450.69 C268.00,450.80 269.00,450.91 270.00,451.02 C271.00,451.14 272.00,451.25 273.00,451.37 C274.00,451.49 275.00,451.60 276.00,451.73 C277.00,451.85 278.00,451.97 279.00,452.10 C280.00,452.22 281.00,452.35 282.00,452.48 C283.00,452.61 284.00,452.74 285.00,452.88 C286.00,453.01 287.00,453.15 288.00,453.29 C289.00,453.42 290.00,453.56 291.00,453.71 C292.00,453.85 293.00,453.99 294.00,454.14 C295.00,454.28 296.00,454.43 297.00,454.58 C298.00,454.73 299.00,454.88 300.00,455.04 C301.00,455.19 302.00,455.35 303.00,455.50 C304.00,455.66 305.00,455.82 306.00,455.98 C307.00,456.14 308.00,456.31 309.00,456.47 C310.00,456.63 311.00,456.80 312.00,456.97 C313.00,457.14 314.00,457.31 315.00,457.48 C316.00,457.65 317.00,457.82 318.00,458.00 C319.00,458.17 320.00,458.35 321.00,458.52 C322.00,458.70 323.00,458.88 324.00,459.06 C325.00,459.24 326.00,459.43 327.00,459.61 C328.00,459.79 329.00,459.98 330.00,460.17 C331.00,460.35 332.00,460.54 333.00,460.73 C334.00,460.92 335.00,461.11 336.00,461.31 C337.00,461.50 338.00,461.69 339.00,461.89 C340.00,462.09 341.01,462.25 342.00,462.48 C343.51,462.82 345.03,463.11 346.50,463.60 C348.04,464.12 349.83,464.37 351.00,465.50 C352.89,467.32 353.92,469.87 355.30,472.10 C357.52,475.70 359.62,479.37 361.80,483.00 C363.99,486.64 366.24,490.24 368.40,493.90 C369.98,496.57 371.45,499.31 373.00,502.00 C375.31,506.01 377.62,510.03 380.00,514.00 C381.22,516.03 382.35,518.13 383.80,520.00 C385.69,522.44 387.61,524.94 390.00,526.90 C393.36,529.65 397.30,531.58 400.90,534.00 C404.57,536.48 408.17,539.06 411.80,541.60 C415.44,544.16 419.26,546.47 422.70,549.30 C425.49,551.59 428.05,554.17 430.40,556.90 C432.43,559.25 434.03,561.94 435.80,564.50 C437.40,566.81 439.07,569.08 440.50,571.50 C441.34,572.92 442.39,574.36 442.60,576.00 C443.20,580.63 442.88,585.33 442.90,590.00 C442.98,604.42 442.90,633.25 442.90,633.25" fill="none" stroke="#E58E5C" stroke-width="1.8" stroke-linejoin="round" stroke-linecap="round"/>
<path d="M50.67,633.25 C50.67,633.25 51.99,628.83 52.67,626.62 C53.33,624.47 53.99,622.32 54.67,620.18 C55.33,618.09 55.99,616.00 56.67,613.92 C57.33,611.89 57.99,609.87 58.67,607.85 C59.33,605.88 59.99,603.92 60.67,601.95 C61.33,600.05 61.99,598.14 62.67,596.24 C63.33,594.38 63.99,592.53 64.67,590.69 C65.33,588.89 65.99,587.10 66.67,585.31 C67.33,583.57 67.99,581.83 68.67,580.10 C69.33,578.41 69.99,576.73 70.67,575.05 C71.33,573.41 71.99,571.78 72.67,570.16 C73.33,568.58 73.99,567.00 74.67,565.42 C75.33,563.89 75.99,562.36 76.67,560.84 C77.33,559.36 77.99,557.88 78.67,556.40 C79.33,554.97 79.99,553.54 80.67,552.11 C81.33,550.73 81.99,549.34 82.67,547.97 C83.33,546.63 83.99,545.29 84.67,543.96 C85.33,542.66 85.99,541.37 86.67,540.08 C87.33,538.83 88.00,537.59 88.67,536.34 C89.11,535.54 89.55,534.73 90.00,533.93 C90.99,532.17 91.98,530.42 93.00,528.68 C93.98,527.01 94.98,525.35 96.00,523.71 C96.98,522.13 97.98,520.55 99.00,519.00 C99.98,517.50 100.98,516.01 102.00,514.54 C102.98,513.12 103.98,511.71 105.00,510.31 C105.98,508.97 106.98,507.64 108.00,506.32 C108.98,505.05 109.98,503.79 111.00,502.55 C111.98,501.34 112.98,500.15 114.00,498.98 C114.98,497.84 115.98,496.71 117.00,495.60 C117.98,494.52 118.99,493.46 120.00,492.41 C120.99,491.40 121.99,490.39 123.00,489.40 C123.99,488.44 124.99,487.50 126.00,486.56 C126.99,485.65 127.99,484.76 129.00,483.88 C129.99,483.02 130.99,482.18 132.00,481.35 C132.99,480.53 133.99,479.74 135.00,478.95 C135.99,478.18 136.99,477.43 138.00,476.69 C138.99,475.96 139.99,475.25 141.00,474.55 C141.99,473.86 142.99,473.18 144.00,472.52 C144.99,471.86 145.99,471.22 147.00,470.59 C147.99,469.97 148.99,469.36 150.00,468.76 C150.99,468.17 151.99,467.59 153.00,467.02 C153.99,466.45 154.99,465.90 156.00,465.36 C156.99,464.82 157.99,464.30 159.00,463.78 C159.99,463.27 161.00,462.77 162.00,462.28 C163.00,461.80 164.00,461.32 165.00,460.86 C166.00,460.40 167.00,459.95 168.00,459.51 C169.00,459.07 170.00,458.64 171.00,458.22 C172.00,457.80 173.00,457.40 174.00,457.00 C175.00,456.60 176.00,456.22 177.00,455.84 C178.00,455.46 179.00,455.09 180.00,454.73 C181.00,454.37 182.00,454.02 183.00,453.68 C184.00,453.34 185.00,453.00 186.00,452.67 C187.00,452.35 188.00,452.03 189.00,451.72 C190.00,451.41 191.00,451.10 192.00,450.81 C193.00,450.51 194.00,450.22 195.00,449.94 C196.00,449.66 197.00,449.39 198.00,449.12 C199.00,448.86 200.00,448.60 201.00,448.35 C202.00,448.10 203.00,447.85 204.00,447.62 C205.00,447.38 206.00,447.15 207.00,446.93 C208.00,446.71 209.00,446.50 210.00,446.29 C211.00,446.08 212.00,445.89 213.00,445.69 C214.00,445.50 215.00,445.32 216.00,445.14 C217.00,444.97 218.00,444.80 219.00,444.63 C220.00,444.47 221.00,444.32 222.00,444.17 C223.00,444.02 224.00,443.88 225.00,443.75 C226.00,443.62 227.00,443.49 228.00,443.37 C229.00,443.25 230.00,443.14 231.00,443.04 C232.00,442.93 233.00,442.84 234.00,442.75 C235.00,442.66 236.00,442.57 237.00,442.50 C238.00,442.42 239.00,442.35 240.00,442.29 C241.00,442.23 242.00,442.18 243.00,442.13 C244.00,442.08 245.00,442.04 246.00,442.01 C247.00,441.97 248.00,441.95 249.00,441.93 C250.00,441.91 251.00,441.90 252.00,441.89 C253.00,441.89 254.00,441.89 255.00,441.90 C256.00,441.90 257.00,441.92 258.00,441.94 C259.00,441.96 260.00,441.99 261.00,442.03 C262.00,442.06 263.00,442.11 264.00,442.15 C265.00,442.20 266.00,442.26 267.00,442.32 C268.00,442.39 269.00,442.46 270.00,442.53 C271.00,442.61 272.00,442.69 273.00,442.78 C274.00,442.87 275.00,442.97 276.00,443.07 C277.00,443.17 278.00,443.28 279.00,443.40 C280.00,443.52 281.00,443.64 282.00,443.77 C283.00,443.90 284.00,444.04 285.00,444.18 C286.00,444.32 287.00,444.47 288.00,444.63 C289.00,444.78 290.00,444.95 291.00,445.12 C292.00,445.29 293.00,445.46 294.00,445.64 C295.00,445.83 296.00,446.01 297.00,446.21 C298.00,446.40 299.00,446.60 300.00,446.81 C301.00,447.02 302.00,447.23 303.00,447.46 C304.00,447.68 305.00,447.90 306.00,448.14 C307.00,448.37 308.00,448.61 309.00,448.85 C310.00,449.10 311.00,449.35 312.00,449.61 C313.00,449.87 314.00,450.13 315.00,450.41 C316.00,450.68 317.00,450.95 318.00,451.24 C319.00,451.52 320.00,451.81 321.00,452.11 C322.00,452.40 323.00,452.70 324.00,453.01 C325.00,453.32 326.00,453.63 327.00,453.95 C328.00,454.28 329.00,454.60 330.00,454.93 C331.00,455.27 332.00,455.61 333.00,455.95 C334.00,456.30 335.00,456.65 336.00,457.00 C337.00,457.36 338.00,457.72 339.00,458.09 C340.00,458.46 341.04,458.75 342.00,459.21 C343.38,459.89 344.71,460.66 346.00,461.50 C347.68,462.59 349.58,463.49 350.90,465.00 C352.74,467.09 353.86,469.72 355.30,472.10 C357.49,475.72 359.62,479.37 361.80,483.00 C363.99,486.64 366.24,490.24 368.40,493.90 C369.98,496.57 371.45,499.31 373.00,502.00 C375.31,506.01 377.63,510.02 380.00,514.00 C381.30,516.19 382.75,518.28 384.00,520.50 C386.09,524.22 387.33,528.47 390.00,531.80 C393.05,535.61 397.27,538.32 400.90,541.60 C404.54,544.89 408.22,548.14 411.80,551.50 C414.05,553.61 416.59,555.50 418.40,558.00 C419.55,559.59 420.20,561.56 420.50,563.50 C421.08,567.29 420.97,571.16 421.00,575.00 C421.14,594.42 421.00,633.25 421.00,633.25" fill="none" stroke="#A6A6A6" stroke-width="1.8" stroke-linejoin="round" stroke-linecap="round"/>
<path d="M50.67,633.25 C50.67,633.25 51.99,628.79 52.67,626.56 C53.33,624.39 53.99,622.22 54.67,620.06 C55.33,617.95 55.99,615.85 56.67,613.75 C57.33,611.71 57.99,609.66 58.67,607.63 C59.33,605.64 59.99,603.66 60.67,601.68 C61.33,599.76 61.99,597.83 62.67,595.91 C63.33,594.05 63.99,592.18 64.67,590.32 C65.33,588.51 65.99,586.71 66.67,584.90 C67.33,583.15 67.99,581.40 68.67,579.65 C69.33,577.95 69.99,576.26 70.67,574.56 C71.33,572.92 71.99,571.28 72.67,569.64 C73.33,568.04 73.99,566.45 74.67,564.87 C75.33,563.33 75.99,561.79 76.67,560.25 C77.33,558.76 77.99,557.27 78.67,555.79 C79.33,554.35 79.99,552.91 80.67,551.48 C81.33,550.08 81.99,548.69 82.67,547.31 C83.33,545.96 83.99,544.61 84.67,543.28 C85.33,541.97 85.99,540.68 86.67,539.38 C87.33,538.13 88.00,536.87 88.67,535.62 C89.11,534.81 89.55,534.00 90.00,533.20 C90.99,531.44 91.98,529.68 93.00,527.93 C93.98,526.26 94.98,524.59 96.00,522.94 C96.98,521.36 97.98,519.78 99.00,518.22 C99.98,516.72 100.98,515.23 102.00,513.76 C102.98,512.33 103.98,510.93 105.00,509.53 C105.98,508.19 106.98,506.86 108.00,505.54 C108.98,504.27 109.98,503.02 111.00,501.77 C111.98,500.57 112.98,499.39 114.00,498.21 C114.98,497.08 115.98,495.96 117.00,494.85 C117.98,493.78 118.99,492.72 120.00,491.68 C120.99,490.66 121.99,489.67 123.00,488.68 C123.99,487.72 124.99,486.78 126.00,485.85 C126.99,484.94 127.99,484.05 129.00,483.17 C129.99,482.31 130.99,481.47 132.00,480.64 C132.99,479.84 133.99,479.04 135.00,478.26 C135.99,477.49 136.99,476.74 138.00,476.01 C138.99,475.28 139.99,474.58 141.00,473.88 C141.99,473.19 142.99,472.52 144.00,471.87 C144.99,471.22 145.99,470.59 147.00,469.96 C147.99,469.35 148.99,468.75 150.00,468.16 C150.99,467.58 151.99,467.01 153.00,466.45 C153.99,465.89 154.99,465.35 156.00,464.82 C156.99,464.29 158.00,463.77 159.00,463.26 C160.00,462.76 161.00,462.26 162.00,461.77 C163.00,461.29 164.00,460.81 165.00,460.34 C166.00,459.88 167.00,459.42 168.00,458.97 C169.00,458.53 170.00,458.09 171.00,457.66 C172.00,457.23 173.00,456.81 174.00,456.40 C175.00,455.98 176.00,455.58 177.00,455.19 C178.00,454.79 179.00,454.41 180.00,454.03 C181.00,453.65 182.00,453.28 183.00,452.92 C184.00,452.56 185.00,452.20 186.00,451.86 C187.00,451.51 188.00,451.17 189.00,450.84 C190.00,450.51 191.00,450.19 192.00,449.87 C193.00,449.55 194.00,449.25 195.00,448.94 C196.00,448.64 197.00,448.35 198.00,448.06 C199.00,447.78 200.00,447.50 201.00,447.23 C202.00,446.96 203.00,446.69 204.00,446.44 C205.00,446.18 206.00,445.93 207.00,445.69 C208.00,445.45 209.00,445.21 210.00,444.98 C211.00,444.76 212.00,444.54 213.00,444.32 C214.00,444.11 215.00,443.90 216.00,443.70 C217.00,443.50 218.00,443.31 219.00,443.13 C220.00,442.94 221.00,442.76 222.00,442.59 C223.00,442.42 224.00,442.26 225.00,442.10 C226.00,441.94 227.00,441.79 228.00,441.65 C229.00,441.51 230.00,441.37 231.00,441.24 C232.00,441.11 233.00,440.99 234.00,440.87 C235.00,440.75 236.00,440.65 237.00,440.54 C238.00,440.44 239.00,440.34 240.00,440.25 C241.00,440.16 242.00,440.08 243.00,440.01 C244.00,439.93 245.00,439.86 246.00,439.80 C247.00,439.73 248.00,439.68 249.00,439.63 C250.00,439.58 251.00,439.53 252.00,439.49 C253.00,439.46 254.00,439.43 255.00,439.40 C256.00,439.38 257.00,439.36 258.00,439.35 C259.00,439.33 260.00,439.33 261.00,439.33 C262.00,439.33 263.00,439.34 264.00,439.35 C265.00,439.36 266.00,439.38 267.00,439.41 C268.00,439.43 269.00,439.46 270.00,439.50 C271.00,439.54 272.00,439.58 273.00,439.63 C274.00,439.68 275.00,439.74 276.00,439.80 C277.00,439.86 278.00,439.93 279.00,440.00 C280.00,440.07 281.00,440.15 282.00,440.24 C283.00,440.32 284.00,440.41 285.00,440.51 C286.00,440.61 287.00,440.71 288.00,440.82 C289.00,440.92 290.00,441.04 291.00,441.16 C292.00,441.28 293.00,441.40 294.00,441.53 C295.00,441.66 296.00,441.80 297.00,441.94 C298.00,442.08 299.00,442.23 300.00,442.38 C301.00,442.54 302.00,442.70 303.00,442.86 C304.00,443.02 305.00,443.19 306.00,443.37 C307.00,443.54 308.00,443.72 309.00,443.91 C310.00,444.09 311.00,444.28 312.00,444.48 C313.00,444.68 314.00,444.88 315.00,445.08 C316.00,445.29 317.00,445.50 318.00,445.72 C319.00,445.94 320.00,446.16 321.00,446.39 C322.00,446.61 323.00,446.85 324.00,447.08 C325.00,447.32 326.00,447.56 327.00,447.81 C328.00,448.06 329.00,448.31 330.00,448.57 C331.00,448.82 332.00,449.09 333.00,449.35 C334.00,449.62 335.00,449.89 336.00,450.17 C337.00,450.45 338.00,450.73 339.00,451.01 C340.00,451.30 341.00,451.59 342.00,451.89 C344.97,452.78 347.96,453.62 350.90,454.60 C354.56,455.82 358.35,456.77 361.80,458.50 C363.53,459.37 364.99,460.79 366.20,462.30 C368.65,465.36 370.59,468.79 372.70,472.10 C375.69,476.80 378.78,481.44 381.50,486.30 C384.55,491.75 387.12,497.45 390.00,503.00 C391.79,506.46 393.54,509.94 395.50,513.30 C396.81,515.54 398.29,517.69 399.80,519.80 C401.92,522.76 403.83,525.93 406.40,528.50 C409.70,531.80 413.57,534.49 417.30,537.30 C420.84,539.96 424.69,542.20 428.20,544.90 C430.86,546.94 434.05,548.64 435.80,551.50 C437.14,553.68 436.64,556.55 436.90,559.10 C437.20,562.06 437.45,565.03 437.50,568.00 C437.88,589.75 438.20,633.25 438.20,633.25" fill="none" stroke="#4A6EB4" stroke-width="1.8" stroke-linejoin="round" stroke-linecap="round"/>
<path d="M50.67,633.25 C50.67,633.25 51.99,628.82 52.67,626.61 C53.33,624.45 53.99,622.30 54.67,620.15 C55.33,618.05 55.99,615.96 56.67,613.87 C57.33,611.83 57.99,609.80 58.67,607.77 C59.33,605.79 59.99,603.81 60.67,601.84 C61.33,599.92 61.99,598.00 62.67,596.08 C63.33,594.21 63.99,592.35 64.67,590.49 C65.33,588.68 65.99,586.87 66.67,585.06 C67.33,583.30 67.99,581.55 68.67,579.80 C69.33,578.09 69.99,576.39 70.67,574.69 C71.33,573.03 71.99,571.38 72.67,569.73 C73.33,568.13 73.99,566.53 74.67,564.93 C75.33,563.37 75.99,561.82 76.67,560.27 C77.33,558.77 77.99,557.26 78.67,555.76 C79.33,554.30 79.99,552.85 80.67,551.40 C81.33,549.98 81.99,548.57 82.67,547.17 C83.33,545.80 83.99,544.44 84.67,543.08 C85.33,541.75 85.99,540.43 86.67,539.12 C87.33,537.84 88.00,536.56 88.67,535.29 C89.11,534.46 89.55,533.64 90.00,532.82 C90.99,531.02 91.98,529.22 93.00,527.43 C93.98,525.72 94.98,524.01 96.00,522.32 C96.98,520.69 97.98,519.07 99.00,517.47 C99.98,515.92 100.98,514.39 102.00,512.87 C102.98,511.40 103.98,509.94 105.00,508.50 C105.98,507.11 106.98,505.73 108.00,504.37 C108.98,503.05 109.98,501.74 111.00,500.45 C111.98,499.20 112.98,497.97 114.00,496.74 C114.98,495.56 115.98,494.39 117.00,493.23 C117.98,492.11 118.99,491.01 120.00,489.91 C120.99,488.85 121.99,487.80 123.00,486.77 C123.99,485.76 124.99,484.77 126.00,483.79 C126.99,482.84 127.99,481.90 129.00,480.97 C129.99,480.07 130.99,479.18 132.00,478.31 C132.99,477.45 133.99,476.61 135.00,475.79 C135.99,474.98 136.99,474.19 138.00,473.41 C138.99,472.64 139.99,471.89 141.00,471.16 C141.99,470.43 142.99,469.72 144.00,469.03 C144.99,468.34 145.99,467.67 147.00,467.01 C147.99,466.37 148.99,465.73 150.00,465.11 C150.99,464.49 151.99,463.89 153.00,463.30 C153.99,462.72 154.99,462.15 156.00,461.59 C156.99,461.03 157.99,460.49 159.00,459.96 C159.99,459.43 161.00,458.91 162.00,458.40 C163.00,457.90 164.00,457.40 165.00,456.92 C166.00,456.44 167.00,455.96 168.00,455.50 C169.00,455.04 170.00,454.59 171.00,454.15 C172.00,453.71 173.00,453.28 174.00,452.85 C175.00,452.43 176.00,452.02 177.00,451.62 C178.00,451.22 179.00,450.82 180.00,450.44 C181.00,450.06 182.00,449.68 183.00,449.31 C184.00,448.94 185.00,448.58 186.00,448.23 C187.00,447.88 188.00,447.54 189.00,447.20 C190.00,446.86 191.00,446.54 192.00,446.21 C193.00,445.89 194.00,445.58 195.00,445.27 C196.00,444.97 197.00,444.67 198.00,444.38 C199.00,444.09 200.00,443.80 201.00,443.53 C202.00,443.25 203.00,442.98 204.00,442.72 C205.00,442.46 206.00,442.21 207.00,441.96 C208.00,441.72 209.00,441.48 210.00,441.25 C211.00,441.02 212.00,440.79 213.00,440.58 C214.00,440.36 215.00,440.15 216.00,439.95 C217.00,439.75 218.00,439.55 219.00,439.36 C220.00,439.18 221.00,439.00 222.00,438.82 C223.00,438.65 224.00,438.48 225.00,438.32 C226.00,438.17 227.00,438.01 228.00,437.87 C229.00,437.72 230.00,437.59 231.00,437.46 C232.00,437.33 233.00,437.20 234.00,437.09 C235.00,436.97 236.00,436.86 237.00,436.76 C238.00,436.65 239.00,436.56 240.00,436.47 C241.00,436.38 242.00,436.30 243.00,436.22 C244.00,436.15 245.00,436.08 246.00,436.02 C247.00,435.96 248.00,435.90 249.00,435.85 C250.00,435.80 251.00,435.76 252.00,435.73 C253.00,435.69 254.00,435.67 255.00,435.64 C256.00,435.62 257.00,435.61 258.00,435.60 C259.00,435.59 260.00,435.59 261.00,435.60 C262.00,435.60 263.00,435.61 264.00,435.63 C265.00,435.65 266.00,435.67 267.00,435.71 C268.00,435.74 269.00,435.77 270.00,435.82 C271.00,435.86 272.00,435.91 273.00,435.97 C274.00,436.03 275.00,436.09 276.00,436.16 C277.00,436.23 278.00,436.30 279.00,436.39 C280.00,436.47 281.00,436.56 282.00,436.65 C283.00,436.74 284.00,436.85 285.00,436.95 C286.00,437.06 287.00,437.17 288.00,437.29 C289.00,437.41 290.00,437.54 291.00,437.67 C292.00,437.80 293.00,437.94 294.00,438.08 C295.00,438.22 296.00,438.37 297.00,438.53 C298.00,438.68 299.00,438.85 300.00,439.01 C301.00,439.18 302.00,439.35 303.00,439.53 C304.00,439.71 305.00,439.90 306.00,440.09 C307.00,440.28 308.00,440.48 309.00,440.68 C310.00,440.88 311.00,441.09 312.00,441.30 C313.00,441.52 314.00,441.74 315.00,441.96 C316.00,442.19 317.00,442.42 318.00,442.66 C319.00,442.90 320.00,443.14 321.00,443.39 C322.00,443.63 323.00,443.89 324.00,444.15 C325.00,444.41 326.00,444.67 327.00,444.94 C328.00,445.21 329.00,445.49 330.00,445.77 C331.00,446.05 332.00,446.34 333.00,446.63 C334.00,446.93 335.00,447.22 336.00,447.53 C337.00,447.83 338.00,448.14 339.00,448.45 C340.00,448.77 341.01,449.07 342.00,449.41 C344.97,450.42 348.01,451.27 350.90,452.50 C354.26,453.94 357.78,455.21 360.70,457.40 C362.28,458.58 363.03,460.59 364.00,462.30 C365.60,465.13 366.89,468.12 368.40,471.00 C370.52,475.03 372.65,479.05 374.90,483.00 C377.02,486.72 379.42,490.26 381.50,494.00 C383.13,496.93 384.43,500.04 386.00,503.00 C387.26,505.37 388.53,507.75 390.00,510.00 C391.71,512.62 393.77,515.00 395.50,517.60 C397.41,520.47 398.63,523.81 400.90,526.40 C404.12,530.07 407.98,533.15 411.80,536.20 C415.26,538.96 419.37,540.88 422.70,543.80 C425.61,546.35 428.33,549.23 430.40,552.50 C431.86,554.80 432.61,557.52 433.10,560.20 C433.69,563.42 433.58,566.73 433.60,570.00 C433.74,591.08 433.60,633.25 433.60,633.25" fill="none" stroke="#EBC94E" stroke-width="1.8" stroke-linejoin="round" stroke-linecap="round"/>
<path d="M50.67,633.25 C50.67,633.25 51.99,628.71 52.67,626.45 C53.33,624.24 53.99,622.04 54.67,619.84 C55.33,617.70 55.99,615.56 56.67,613.43 C57.33,611.35 57.99,609.27 58.67,607.20 C59.33,605.18 59.99,603.17 60.67,601.16 C61.33,599.20 61.99,597.25 62.67,595.29 C63.33,593.40 63.99,591.50 64.67,589.61 C65.33,587.77 65.99,585.93 66.67,584.10 C67.33,582.31 67.99,580.53 68.67,578.75 C69.33,577.03 69.99,575.30 70.67,573.58 C71.33,571.90 71.99,570.23 72.67,568.57 C73.33,566.95 73.99,565.33 74.67,563.71 C75.33,562.15 75.99,560.58 76.67,559.02 C77.33,557.50 77.99,555.99 78.67,554.48 C79.33,553.01 79.99,551.54 80.67,550.08 C81.33,548.66 81.99,547.25 82.67,545.84 C83.33,544.46 83.99,543.09 84.67,541.73 C85.33,540.40 85.99,539.08 86.67,537.76 C87.33,536.48 88.00,535.21 88.67,533.93 C89.11,533.11 89.55,532.28 90.00,531.46 C90.99,529.67 91.98,527.87 93.00,526.09 C93.98,524.38 94.98,522.69 96.00,521.00 C96.98,519.38 97.98,517.77 99.00,516.18 C99.98,514.65 100.98,513.12 102.00,511.62 C102.98,510.16 103.98,508.72 105.00,507.30 C105.98,505.92 106.98,504.56 108.00,503.21 C108.98,501.91 109.98,500.63 111.00,499.35 C111.98,498.12 112.98,496.90 114.00,495.70 C114.98,494.53 115.98,493.38 117.00,492.25 C117.98,491.14 118.99,490.06 120.00,488.98 C120.99,487.94 121.99,486.91 123.00,485.89 C123.99,484.90 124.99,483.93 126.00,482.96 C126.99,482.03 127.99,481.10 129.00,480.19 C129.99,479.30 130.99,478.42 132.00,477.56 C132.99,476.71 133.99,475.87 135.00,475.05 C135.99,474.24 136.99,473.45 138.00,472.66 C138.99,471.89 139.99,471.13 141.00,470.38 C141.99,469.64 142.99,468.91 144.00,468.19 C144.99,467.49 145.99,466.79 147.00,466.10 C147.99,465.42 148.99,464.76 150.00,464.10 C150.99,463.45 151.99,462.81 153.00,462.18 C153.99,461.56 154.99,460.95 156.00,460.35 C156.99,459.75 157.99,459.17 159.00,458.59 C159.99,458.02 160.99,457.46 162.00,456.91 C163.00,456.36 164.00,455.83 165.00,455.30 C166.00,454.78 167.00,454.26 168.00,453.76 C169.00,453.26 170.00,452.77 171.00,452.28 C172.00,451.80 173.00,451.33 174.00,450.87 C175.00,450.41 176.00,449.95 177.00,449.51 C178.00,449.07 179.00,448.63 180.00,448.20 C181.00,447.78 182.00,447.36 183.00,446.95 C184.00,446.54 185.00,446.14 186.00,445.75 C187.00,445.36 188.00,444.97 189.00,444.59 C190.00,444.22 191.00,443.85 192.00,443.49 C193.00,443.13 194.00,442.78 195.00,442.44 C196.00,442.09 197.00,441.76 198.00,441.43 C199.00,441.10 200.00,440.78 201.00,440.47 C202.00,440.16 203.00,439.86 204.00,439.56 C205.00,439.26 206.00,438.98 207.00,438.70 C208.00,438.42 209.00,438.15 210.00,437.88 C211.00,437.62 212.00,437.36 213.00,437.11 C214.00,436.86 215.00,436.62 216.00,436.39 C217.00,436.16 218.00,435.93 219.00,435.71 C220.00,435.49 221.00,435.28 222.00,435.08 C223.00,434.88 224.00,434.68 225.00,434.49 C226.00,434.31 227.00,434.13 228.00,433.95 C229.00,433.78 230.00,433.62 231.00,433.46 C232.00,433.30 233.00,433.15 234.00,433.00 C235.00,432.86 236.00,432.73 237.00,432.60 C238.00,432.47 239.00,432.35 240.00,432.23 C241.00,432.12 242.00,432.01 243.00,431.91 C244.00,431.81 245.00,431.72 246.00,431.63 C247.00,431.54 248.00,431.46 249.00,431.39 C250.00,431.32 251.00,431.25 252.00,431.20 C253.00,431.14 254.00,431.09 255.00,431.04 C256.00,431.00 257.00,430.96 258.00,430.93 C259.00,430.90 260.00,430.88 261.00,430.86 C262.00,430.84 263.00,430.83 264.00,430.83 C265.00,430.82 266.00,430.83 267.00,430.84 C268.00,430.85 269.00,430.86 270.00,430.88 C271.00,430.91 272.00,430.94 273.00,430.97 C274.00,431.01 275.00,431.05 276.00,431.10 C277.00,431.15 278.00,431.20 279.00,431.26 C280.00,431.33 281.00,431.39 282.00,431.47 C283.00,431.54 284.00,431.62 285.00,431.71 C286.00,431.80 287.00,431.89 288.00,431.99 C289.00,432.09 290.00,432.19 291.00,432.30 C292.00,432.42 293.00,432.53 294.00,432.66 C295.00,432.78 296.00,432.91 297.00,433.05 C298.00,433.18 299.00,433.32 300.00,433.47 C301.00,433.62 302.00,433.77 303.00,433.93 C304.00,434.09 305.00,434.26 306.00,434.43 C307.00,434.60 308.00,434.78 309.00,434.96 C310.00,435.14 311.00,435.33 312.00,435.52 C313.00,435.72 314.00,435.92 315.00,436.12 C316.00,436.33 317.00,436.54 318.00,436.76 C319.00,436.97 320.00,437.20 321.00,437.42 C322.00,437.65 323.00,437.88 324.00,438.12 C325.00,438.36 326.00,438.61 327.00,438.85 C328.00,439.10 329.00,439.36 330.00,439.62 C331.00,439.88 332.00,440.15 333.00,440.42 C334.00,440.69 335.00,440.96 336.00,441.24 C337.00,441.53 338.00,441.81 339.00,442.10 C340.00,442.40 340.99,442.72 342.00,442.99 C344.96,443.81 347.99,444.41 350.90,445.40 C354.60,446.65 358.30,447.96 361.80,449.70 C364.17,450.88 366.49,452.27 368.40,454.10 C370.18,455.80 371.26,458.10 372.70,460.10 C374.53,462.64 376.47,465.10 378.20,467.70 C380.11,470.57 382.00,473.46 383.60,476.50 C386.27,481.57 388.58,486.81 391.00,492.00 C393.62,497.61 395.96,503.35 398.70,508.90 C400.36,512.26 402.12,515.59 404.20,518.70 C406.50,522.14 408.88,525.57 411.80,528.50 C415.09,531.81 418.97,534.49 422.70,537.30 C426.24,539.96 430.05,542.25 433.60,544.90 C435.89,546.62 438.45,548.14 440.20,550.40 C441.64,552.25 442.41,554.61 442.90,556.90 C443.46,559.54 443.29,562.30 443.30,565.00 C443.42,587.75 443.30,633.25 443.30,633.25" fill="none" stroke="#6A9CCC" stroke-width="1.8" stroke-linejoin="round" stroke-linecap="round"/>
<line x1="504.2" y1="498.2" x2="524" y2="498.2" stroke="#E58E5C" stroke-width="1.8"/>
<text x="525.3" y="501.1" font-size="8" fill="#676767" stroke="#676767" stroke-width="0.3">A1</text>
<line x1="504.2" y1="514.8" x2="524" y2="514.8" stroke="#A6A6A6" stroke-width="1.8"/>
<text x="525.3" y="517.7" font-size="8" fill="#676767" stroke="#676767" stroke-width="0.3">A2</text>
<line x1="504.2" y1="531.3" x2="524" y2="531.3" stroke="#4A6EB4" stroke-width="1.8"/>
<text x="525.3" y="534.2" font-size="8" fill="#676767" stroke="#676767" stroke-width="0.3">A3</text>
<line x1="504.2" y1="548.4" x2="524" y2="548.4" stroke="#EBC94E" stroke-width="1.8"/>
<text x="525.3" y="551.3" font-size="8" fill="#676767" stroke="#676767" stroke-width="0.3">A4</text>
<line x1="504.2" y1="564.7" x2="524" y2="564.7" stroke="#6A9CCC" stroke-width="1.8"/>
<text x="525.3" y="567.6" font-size="8" fill="#676767" stroke="#676767" stroke-width="0.3">A5</text>
<text x="274.6" y="355.3" font-size="17.6" fill="#000" text-anchor="middle" style="font-family:'Liberation Serif',serif">(<tspan font-weight="bold">a</tspan>)</text>
<text x="274.7" y="696.8" font-size="17.6" fill="#000" text-anchor="middle" style="font-family:'Liberation Serif',serif">(<tspan font-weight="bold">b</tspan>)</text>
</svg></body></html>
